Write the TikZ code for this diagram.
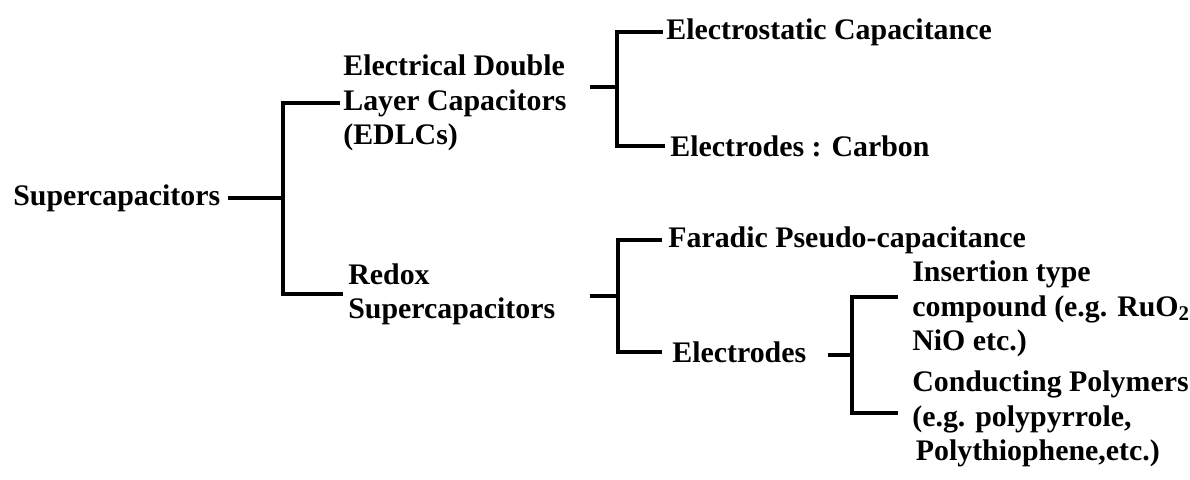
\documentclass[tikz,border=0pt]{standalone}
\usepackage{fontspec}
\setmainfont{Liberation Serif}

\begin{document}
\begin{tikzpicture}[
  x=0.02cm, y=-0.02cm,
  lbl/.style={inner sep=0pt, anchor=west, align=left,
              font=\fontsize{17}{19.5}\selectfont\bfseries},
  br/.style={line width=2pt, black}
]
  \useasboundingbox (0,0) rectangle (1190,480);

  \node[lbl] (sup)   at (13,198)  {Supercapacitors};
  \node[lbl] (edlc)  at (343,103) {Electrical Double\\Layer Capacitors\\(EDLCs)};
  \node[lbl] (redox) at (348,294) {Redox\\Supercapacitors};

  \coordinate (j1) at (283,198);
  \draw[br, shorten <=0.14cm] (sup.east) -- (j1);
  \draw[br, shorten >=0.06cm] (j1) |- (edlc.west);
  \draw[br, shorten >=0.1cm]  (j1) |- (redox.west);

  \node[lbl] (estat) at (666,32)  {Electrostatic Capacitance};
  \node[lbl] (ecarb) at (670,146) {Electrodes : Carbon};

  \coordinate (j2) at (617,87);
  \draw[br, shorten <=0.46cm] (edlc.east |- j2) -- (j2);
  \draw[br, shorten >=0.06cm] (j2) |- (estat.west);
  \draw[br, shorten >=0.1cm]  (j2) |- (ecarb.west);

  \node[lbl] (farad) at (668,240) {Faradic Pseudo-capacitance};
  \node[lbl] (elec)  at (672,352) {Electrodes};

  \coordinate (j3) at (618,296);
  \draw[br, shorten <=0.68cm] (redox.east |- j3) -- (j3);
  \draw[br, shorten >=0.12cm] (j3) |- (farad.west);
  \draw[br, shorten >=0.2cm]  (j3) |- (elec.west);

  \node[lbl] (ins)  at (912,309) {Insertion type\\compound (e.g. RuO\textsubscript{2}\\NiO etc.)};
  \node[lbl] (cond) at (912,419) {Conducting Polymers\\(e.g. polypyrrole,\\\hspace*{2pt}Polythiophene,etc.)};

  \coordinate (j4) at (852,355);
  \draw[br, shorten <=0.42cm] (elec.east |- j4) -- (j4);
  \draw[br, shorten >=0.28cm] (j4) |- ([yshift=0.24cm]ins.west);
  \draw[br, shorten >=0.28cm] (j4) |- ([yshift=0.12cm]cond.west);
\end{tikzpicture}
\end{document}
